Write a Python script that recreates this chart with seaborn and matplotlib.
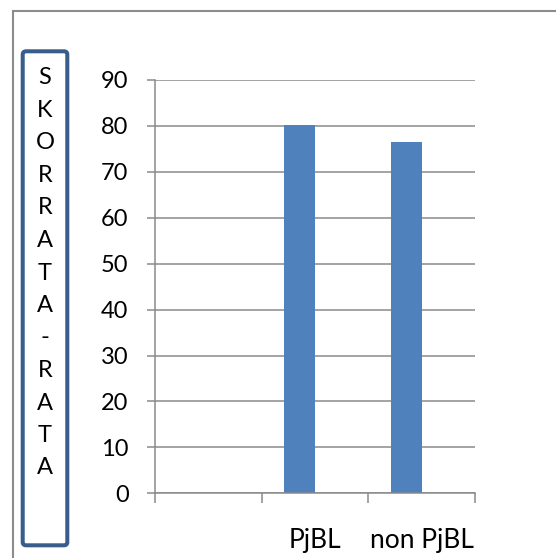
import numpy as np
import pandas as pd
import matplotlib
matplotlib.use("Agg")
import matplotlib.pyplot as plt
from matplotlib.patches import FancyBboxPatch, Rectangle
import seaborn as sns

# Chart data
categories = ["", "PjBL", "non PjBL"]
scores = [np.nan, 80.2, 76.5]
series = ["Series1", "Series2"]
y_ticks = [0, 10, 20, 30, 40, 50, 60, 70, 80, 90]
axis_title = "SKORRATA-RATA"

sns.set_theme(style="white")
plt.rcParams["font.family"] = ["Lato", "DejaVu Sans"]

W, H = 556, 558
DPI = 100
fig = plt.figure(figsize=(W / DPI, H / DPI), dpi=DPI)
fig.patch.set_facecolor("white")

def px_x(x):
    return x / W

def px_y(y):
    return 1 - y / H

# axes area in pixel terms
left, right, top, bottom = 155, 475, 80, 493.3
ax = fig.add_axes([px_x(left), px_y(bottom), (right - left) / W, (bottom - top) / H])

df = pd.DataFrame({"category": categories, "score": scores, "series": series[0]})

grid_color = "#8a8a8a"
text_color = "#000000"
ax.set_ylim(0, 90)
ax.set_xlim(-0.5, 2.5)
ax.set_yticks(y_ticks)
ax.yaxis.grid(True, color=grid_color, linewidth=1.1, zorder=0)
ax.set_axisbelow(True)

sns.barplot(data=df, x="category", y="score", hue="series",
            order=categories, hue_order=series, width=0.58, dodge=True,
            palette=["#4f81bd", "#c0504d"], saturation=1, edgecolor="none",
            legend=False, ax=ax, zorder=2)
ax.set_xlim(-0.5, 2.5)
ax.set_ylim(0, 90)

# category boundaries carry the major ticks, labels sit at the centres
ax.set_xticks([-0.5, 0.5, 1.5, 2.5])
ax.set_xticklabels([])
ax.set_xticks([0, 1, 2], minor=True)
ax.set_xticklabels(categories, minor=True)
ax.tick_params(axis="x", which="major", direction="out", length=7.5, width=1.1,
               color=grid_color, bottom=True)
ax.tick_params(axis="x", which="minor", length=0, pad=25, labelsize=19,
               labelcolor=text_color)
ax.tick_params(axis="y", direction="out", length=6, width=1.1, color=grid_color,
               pad=13, labelsize=17, labelcolor=text_color, left=True)
ax.set_xlabel("")
ax.set_ylabel("")

for side in ["top", "right"]:
    ax.spines[side].set_visible(False)
for side in ["left", "bottom"]:
    ax.spines[side].set_color(grid_color)
    ax.spines[side].set_linewidth(1.1)

# outer chart frame
fig.patches.append(Rectangle((px_x(12.7), -0.2), 1.5, px_y(11) + 0.2,
                             transform=fig.transFigure, fill=False,
                             edgecolor="#8c8c8c", linewidth=1.5))

# vertical axis-title box
bx0, bx1, by0, by1 = 22.7, 67.3, 51.3, 545.3
fig.patches.append(FancyBboxPatch((px_x(bx0), px_y(by1)), (bx1 - bx0) / W, (by1 - by0) / H,
                                  boxstyle="round,pad=0,rounding_size=0.006",
                                  transform=fig.transFigure, facecolor="white",
                                  edgecolor="#385d8a", linewidth=2.9))
for i, ch in enumerate(axis_title):
    fig.text(px_x(45), px_y(78 + i * 32.5), ch, ha="center", va="center",
             fontsize=17, color=text_color)

fig.savefig("out.png", dpi=DPI, facecolor="white")
